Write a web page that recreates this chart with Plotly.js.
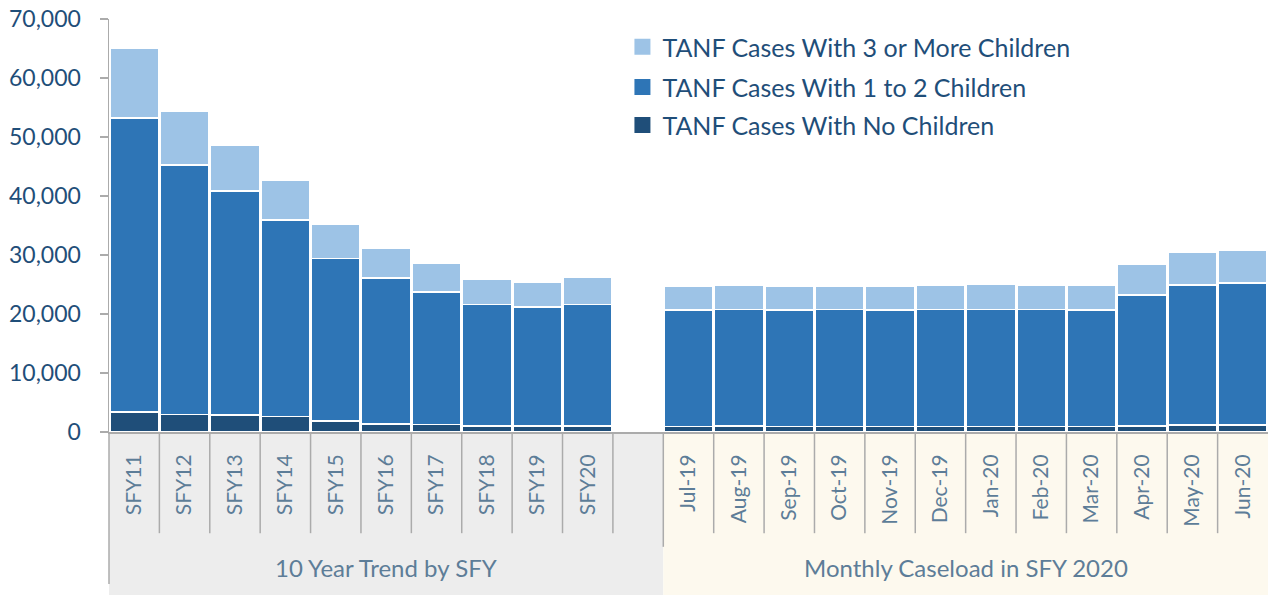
<!DOCTYPE html>
<html>
<head>
<meta charset="utf-8">
<script src="https://cdn.plot.ly/plotly-3.0.1.min.js"></script>
<style>html,body{margin:0;padding:0;background:#fff;}#chart{width:1268px;height:595px;}</style>
</head>
<body>
<div id="chart"></div>
<script>
const sfyLabels = ['SFY11','SFY12','SFY13','SFY14','SFY15','SFY16','SFY17','SFY18','SFY19','SFY20'];
const monthLabels = ['Jul-19','Aug-19','Sep-19','Oct-19','Nov-19','Dec-19','Jan-20','Feb-20','Mar-20','Apr-20','May-20','Jun-20'];
const groupLabels = ['10 Year Trend by SFY', 'Monthly Caseload in SFY 2020'];
const seriesNames = ['TANF Cases With No Children','TANF Cases With 1 to 2 Children','TANF Cases With 3 or More Children'];

// SFY values, then a blank spacer slot, then monthly values
const noChildrenSfy = [3400,3000,2900,2600,1850,1350,1250,1050,1050,1050];
const noChildrenMonth = [950,1000,950,950,950,950,950,950,950,1050,1150,1150];
const oneTwoSfy = [49800,42250,37950,33350,27550,24750,22450,20600,20100,20600];
const oneTwoMonth = [19750,19800,19700,19850,19700,19830,19850,19850,19750,22150,23750,24100];
const threePlusSfy = [11900,9200,7800,6800,5750,5100,4850,4300,4250,4500];
const threePlusMonth = [4070,4100,4070,3970,4070,4120,4260,4100,4200,5200,5650,5600];

const yTicks = [0,10000,20000,30000,40000,50000,60000,70000];

const categories = [...sfyLabels, '', ...monthLabels];
const xPos = categories.map((_, i) => i);
const withGap = (a, b) => [...a, null, ...b];

const colors = ['#1F4E79', '#2E75B6', '#9DC3E6'];
const vals = [withGap(noChildrenSfy, noChildrenMonth), withGap(oneTwoSfy, oneTwoMonth), withGap(threePlusSfy, threePlusMonth)];
const legendIds = ['legend3', 'legend2', 'legend'];

const FONT = 'Lato, "Open Sans", sans-serif';

const traces = vals.map((v, k) => ({
  type: 'bar',
  x: xPos,
  y: v,
  name: seriesNames[k],
  showlegend: false,
  marker: {color: colors[k], line: {color: '#ffffff', width: 1.5}},
  hoverinfo: 'y+name'
}));
// legend-only entries with larger square swatches
vals.forEach((v, k) => traces.push({
  type: 'scatter', mode: 'markers', x: [null], y: [null],
  name: seriesNames[k], legend: legendIds[k], showlegend: true,
  marker: {symbol: 'square', size: 16, color: colors[k]}, hoverinfo: 'skip'
}));

const nSfy = sfyLabels.length;
const lastIdx = categories.length - 1;
const lineCol = '#ABABAB';
const shapes = [];
// background panels
shapes.push({type:'rect', layer:'below', xref:'x', yref:'paper', x0:-0.5, x1:nSfy + 0.5, y0:-0.45, y1:0, fillcolor:'#EDEDED', line:{width:0}});
shapes.push({type:'rect', layer:'below', xref:'x', yref:'paper', x0:nSfy + 0.5, x1:lastIdx + 0.5, y0:-0.45, y1:0, fillcolor:'#FDF9EE', line:{width:0}});
// category separators
for (let i = 0; i < lastIdx; i++) {
  const long = (i === nSfy);
  shapes.push({type:'line', xref:'x', yref:'paper', x0:i + 0.5, x1:i + 0.5, y0:0, y1: long ? -0.278 : -0.245, line:{color:lineCol, width:1.5}});
}
// left edge line
shapes.push({type:'line', xref:'paper', yref:'paper', x0:0, x1:0, y0:0, y1:-0.368, line:{color:lineCol, width:1.5}});

const legendBase = {x: 0.443, xanchor: 'left', yanchor: 'middle', bgcolor: 'rgba(0,0,0,0)', font: {family: FONT, size: 25, color: '#1F4E79'}};

const layout = {
  width: 1268, height: 595,
  margin: {l: 109, r: 0, t: 19, b: 163},
  paper_bgcolor: '#ffffff', plot_bgcolor: 'rgba(0,0,0,0)',
  barmode: 'stack', bargap: 0.03,
  font: {family: FONT, color: '#1F4E79'},
  xaxis: {
    range: [-0.5, lastIdx + 0.5], tickvals: xPos, ticktext: categories,
    tickangle: -90, ticks: '', showgrid: false, zeroline: false,
    showline: true, linecolor: lineCol, linewidth: 2,
    tickfont: {family: FONT, size: 21, color: '#5D7D98'},
    ticklabelstandoff: 12, fixedrange: true
  },
  yaxis: {
    range: [0, 70000], tickvals: yTicks, ticktext: yTicks.map(v => v.toLocaleString('en-US')),
    showgrid: false, zeroline: false, showline: true, linecolor: lineCol, linewidth: 1.5,
    ticks: 'outside', ticklen: 8, tickcolor: lineCol, tickwidth: 1.5,
    tickfont: {family: FONT, size: 23, color: '#1F4E79'},
    ticklabelstandoff: 14, fixedrange: true
  },
  showlegend: true,
  legend:  Object.assign({}, legendBase, {y: 0.932}),
  legend2: Object.assign({}, legendBase, {y: 0.835}),
  legend3: Object.assign({}, legendBase, {y: 0.743}),
  shapes: shapes,
  annotations: [
    {xref:'x', yref:'paper', x:nSfy / 2, y:-0.329, text: groupLabels[0], showarrow:false, xanchor:'center', yanchor:'middle', font:{family: FONT, size: 24, color:'#5D7D98'}},
    {xref:'x', yref:'paper', x:(nSfy + 0.5 + lastIdx + 0.5) / 2, y:-0.329, text: groupLabels[1], showarrow:false, xanchor:'center', yanchor:'middle', font:{family: FONT, size: 24, color:'#5D7D98'}}
  ]
};

Plotly.newPlot('chart', traces, layout, {displayModeBar: false, staticPlot: true});
</script>
</body>
</html>
